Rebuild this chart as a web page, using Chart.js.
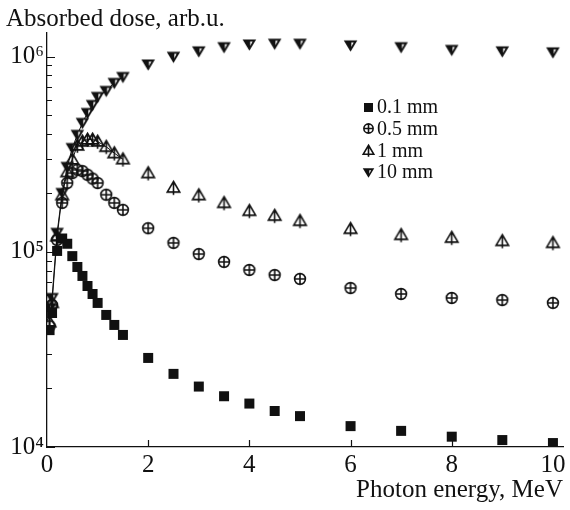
<!DOCTYPE html>
<html>
<head>
<meta charset="utf-8">
<script src="https://cdn.jsdelivr.net/npm/chart.js@4.4.1/dist/chart.umd.min.js"></script>
<style>
  html, body { margin: 0; padding: 0; background: #fff; }
  #wrap { width: 570px; height: 510px; }
</style>
</head>
<body>
<div id="wrap"><canvas id="chart" width="570" height="510"></canvas></div>
<script>
// Photon energy, MeV
const energies = [0.05, 0.1, 0.2, 0.3, 0.4, 0.5, 0.6, 0.7, 0.8, 0.9, 1.0, 1.17, 1.33, 1.5,
                  2, 2.5, 3, 3.5, 4, 4.5, 5, 6, 7, 8, 9, 10];

// Absorbed dose, arb.u. (one array per detector thickness)
const dose01 = [3.97e4, 4.86e4, 1.01e5, 1.17e5, 1.10e5, 9.5e4, 8.36e4, 7.52e4, 6.68e4, 6.08e4,
                5.47e4, 4.75e4, 4.22e4, 3.75e4, 2.86e4, 2.37e4, 2.04e4, 1.82e4, 1.67e4, 1.53e4,
                1.44e4, 1.28e4, 1.21e4, 1.13e4, 1.086e4, 1.048e4];
const dose05 = [4.16e4, 5.34e4, 1.15e5, 1.78e5, 2.25e5, 2.53e5, 2.63e5, 2.59e5, 2.48e5, 2.37e5,
                2.25e5, 1.96e5, 1.78e5, 1.64e5, 1.32e5, 1.11e5, 9.74e4, 8.87e4, 8.07e4, 7.6e4,
                7.26e4, 6.52e4, 6.08e4, 5.80e4, 5.66e4, 5.47e4];
const dose1 = [4.36e4, 5.47e4, 1.2e5, 1.95e5, 2.56e5, 2.97e5, 3.5e5, 3.67e5, 3.76e5, 3.76e5,
               3.67e5, 3.45e5, 3.2e5, 2.98e5, 2.53e5, 2.13e5, 1.95e5, 1.78e5, 1.62e5, 1.53e5,
               1.44e5, 1.31e5, 1.22e5, 1.18e5, 1.136e5, 1.11e5];
const dose10 = [5.15e4, 5.8e4, 1.25e5, 2.0e5, 2.72e5, 3.40e5, 3.97e5, 4.57e5, 5.14e5, 5.65e5,
                6.21e5, 6.67e5, 7.33e5, 7.86e5, 9.11e5, 9.97e5, 1.063e6, 1.117e6, 1.153e6, 1.163e6,
                1.163e6, 1.14e6, 1.117e6, 1.081e6, 1.063e6, 1.051e6];

const seriesLabels = ['0.1 mm', '0.5 mm', '1 mm', '10 mm'];
const xTickStep = 2;
const yLabelPowers = [4, 5, 6];

const INK = '#111';
const FONT = '"Liberation Serif", "DejaVu Serif", serif';
Chart.defaults.font.family = FONT;
Chart.defaults.color = INK;

// Marker glyphs drawn on small canvases, used as pointStyle
function makeMarker(kind, s) {
    const c = document.createElement('canvas');
    c.width = c.height = Math.ceil(s) + 6;
    const g = c.getContext('2d');
    const m = c.width / 2;
    const h = s / 2;
    g.strokeStyle = INK;
    g.fillStyle = INK;
    g.lineWidth = 1.6;
    g.lineJoin = 'miter';
    if (kind === 'square') {
        g.fillRect(m - h, m - h, s, s);
    } else if (kind === 'circlePlus') {
        g.beginPath();
        g.arc(m, m, h - 0.6, 0, Math.PI * 2);
        g.moveTo(m - h + 0.6, m);
        g.lineTo(m + h - 0.6, m);
        g.moveTo(m, m - h + 0.6);
        g.lineTo(m, m + h - 0.6);
        g.stroke();
    } else if (kind === 'triStem') {
        g.beginPath();
        g.moveTo(m, m - h);
        g.lineTo(m + h, m + h * 0.7);
        g.lineTo(m - h, m + h * 0.7);
        g.closePath();
        g.moveTo(m, m - h);
        g.lineTo(m, m + h + 1);
        g.stroke();
    } else if (kind === 'triDown') {
        g.beginPath();
        g.moveTo(m - h - 0.5, m - h * 0.8);
        g.lineTo(m + h + 0.5, m - h * 0.8);
        g.lineTo(m, m + h);
        g.closePath();
        g.fill();
        g.fillStyle = '#fff';
        g.beginPath();
        g.moveTo(m + 0.8, m - h * 0.8 + 2);
        g.lineTo(m + h * 0.5, m - h * 0.8 + 2);
        g.lineTo(m + 0.8, m + h * 0.25);
        g.closePath();
        g.fill();
    }
    return c;
}

const kinds = ['square', 'circlePlus', 'triStem', 'triDown'];
const plotSizes = [10, 12, 12.5, 12.5];
const legendSizes = [9, 10.5, 10.5, 10.5];
const plotMarkers = kinds.map((k, i) => makeMarker(k, plotSizes[i]));
const legendMarkers = kinds.map((k, i) => makeMarker(k, legendSizes[i]));
const allDoses = [dose01, dose05, dose1, dose10];
// thin connecting line through the dense low-energy part
const lineUpTo = [0, 0, 1.5, 1.5];

// Tick marks pointing into the plot
const innerTicks = {
    id: 'innerTicks',
    beforeDatasetsDraw(chart) {
        const { ctx, chartArea, scales: { x, y } } = chart;
        ctx.save();
        ctx.strokeStyle = INK;
        ctx.lineWidth = 1.2;
        ctx.beginPath();
        y.ticks.forEach(t => {
            const v = t.value;
            if (v > y.max) return;
            const p = Math.floor(Math.log10(v) + 1e-9);
            const m = v / Math.pow(10, p);
            if (Math.abs(m - Math.round(m)) > 1e-6) return;
            const len = Math.round(m) === 1 ? 8 : 5;
            const py = Math.round(y.getPixelForValue(v)) + 0.5;
            ctx.moveTo(chartArea.left, py);
            ctx.lineTo(chartArea.left + len, py);
        });
        x.ticks.forEach(t => {
            if (t.value === x.min) return;
            const px = Math.round(x.getPixelForValue(t.value)) + 0.5;
            ctx.moveTo(px, chartArea.bottom);
            ctx.lineTo(px, chartArea.bottom - 7);
        });
        ctx.stroke();
        ctx.restore();
    }
};

// Legend inside the plot and the y-axis caption at the top left
const extras = {
    id: 'extras',
    afterDatasetsDraw(chart) {
        const ctx = chart.ctx;
        ctx.save();
        ctx.fillStyle = INK;
        ctx.textBaseline = 'middle';
        ctx.font = '20px ' + FONT;
        chart.data.datasets.forEach((ds, i) => {
            const cy = 107 + i * 21.7;
            const mk = legendMarkers[i];
            ctx.drawImage(mk, Math.round(368 - mk.width / 2), Math.round(cy - mk.height / 2));
            ctx.fillText(ds.label, 377, cy + 1);
        });
        ctx.font = '25px ' + FONT;
        ctx.textBaseline = 'alphabetic';
        ctx.fillText('Absorbed dose, arb.u.', 6, 26);
        ctx.restore();
    }
};

const supDigits = '⁰¹²³⁴⁵⁶⁷⁸⁹';

new Chart(document.getElementById('chart'), {
    type: 'scatter',
    data: {
        datasets: seriesLabels.map((label, i) => ({
            label: label,
            data: energies.map((e, j) => ({ x: e, y: allDoses[i][j] })),
            pointStyle: plotMarkers[i],
            pointRadius: 6,
            pointHoverRadius: 6,
            showLine: lineUpTo[i] > 0,
            borderColor: INK,
            borderWidth: 1,
            segment: {
                borderColor: ctx => ctx.p1.parsed.x > lineUpTo[i] ? 'rgba(0,0,0,0)' : INK
            }
        }))
    },
    options: {
        responsive: false,
        animation: false,
        devicePixelRatio: 1,
        layout: { padding: { top: 33, left: 0, right: 1, bottom: 0 } },
        plugins: {
            legend: { display: false },
            tooltip: { enabled: false }
        },
        scales: {
            x: {
                type: 'linear',
                min: 0,
                max: 10.2,
                grid: { display: false, drawTicks: false },
                border: { display: true, color: INK, width: 1.3 },
                ticks: {
                    stepSize: xTickStep,
                    includeBounds: false,
                    autoSkip: false,
                    maxRotation: 0,
                    padding: 3,
                    font: { size: 25 },
                    color: INK
                },
                title: {
                    display: true,
                    text: 'Photon energy, MeV',
                    align: 'end',
                    font: { size: 25 },
                    color: INK,
                    padding: { top: 0, bottom: 5 }
                },
                afterFit: s => { s.height = 63; s.paddingLeft = 0; s.paddingRight = 0; }
            },
            y: {
                type: 'logarithmic',
                min: 1e4,
                max: 1.32e6,
                grid: { display: false, drawTicks: false },
                border: { display: true, color: INK, width: 1.3 },
                ticks: {
                    autoSkip: false,
                    padding: 3,
                    font: { size: 25 },
                    color: INK,
                    callback: v => {
                        const p = Math.round(Math.log10(v));
                        if (Math.abs(v - Math.pow(10, p)) > 1e-6 * v) return '';
                        return yLabelPowers.includes(p) ? '10' + supDigits[p] : '';
                    }
                },
                afterFit: s => { s.width = 47; s.paddingTop = 0; s.paddingBottom = 0; }
            }
        }
    },
    plugins: [innerTicks, extras]
});
</script>
</body>
</html>
